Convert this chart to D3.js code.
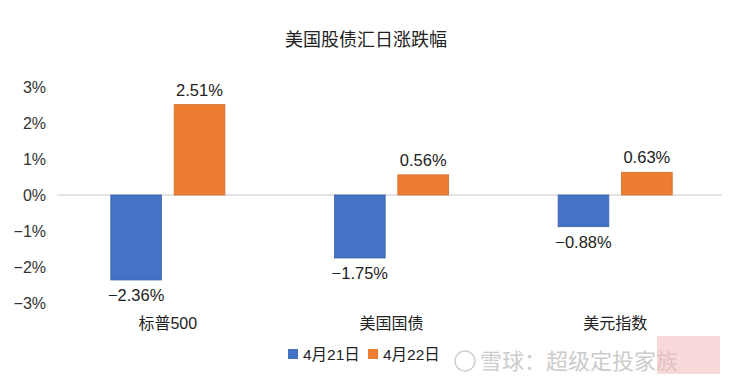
<!DOCTYPE html>
<html>
<head>
<meta charset="utf-8">
<script src="https://cdn.jsdelivr.net/npm/d3@7"></script>
<style>
  body { margin: 0; background: #fff; }
  text { font-family: "Liberation Sans", Arial, "Noto Sans CJK SC", sans-serif; }
</style>
</head>
<body>
<div id="chart"></div>
<script>
const categories = ['标普500', '美国国债', '美元指数']
const seriesNames = ['4月21日', '4月22日']
const apr21 = [-2.36, -1.75, -0.88]
const apr22 = [2.51, 0.56, 0.63]
const yTicks = [3, 2, 1, 0, -1, -2, -3]
const colors = ['#4472C4', '#ED7D31']

const width = 735, height = 390

const svg = d3.select('#chart').append('svg')
    .attr('width', width)
    .attr('height', height)

const x0 = d3.scaleBand()
    .domain(categories)
    .range([56, 727])
    .paddingInner(0.49)
    .paddingOuter(0.245)

const x1 = d3.scaleBand()
    .domain(seriesNames)
    .range([0, x0.bandwidth()])
    .paddingInner(0.2)

const y = d3.scaleLinear()
    .domain([-3, 3])
    .range([303, 87])

const pct = d3.format('.2%')
const tickFmt = d3.format('.0%')

// title
svg.append('text')
    .attr('x', 366)
    .attr('y', 46)
    .attr('text-anchor', 'middle')
    .attr('font-size', 18)
    .attr('fill', '#222')
    .text('美国股债汇日涨跌幅')

// y axis labels, no axis line
const yAxis = d3.axisLeft(y).tickValues(yTicks).tickSize(0).tickPadding(0)
    .tickFormat(d => tickFmt(d / 100))
svg.append('g')
    .attr('transform', 'translate(46,0)')
    .call(yAxis)
    .call(g => g.select('.domain').remove())
    .selectAll('text')
    .attr('font-size', 16)
    .attr('fill', '#333')
    .attr('font-family', '"Liberation Sans", Arial, sans-serif')

// zero line
svg.append('line')
    .attr('x1', 57)
    .attr('x2', 722)
    .attr('y1', y(0))
    .attr('y2', y(0))
    .attr('stroke', '#c8c8c8')
    .attr('stroke-width', 1)

const rows = categories.map((c, i) => ({cat: c, vals: [apr21[i], apr22[i]]}))

const groups = svg.selectAll('g.grp')
    .data(rows)
    .enter()
    .append('g')
    .attr('class', 'grp')
    .attr('transform', d => `translate(${x0(d.cat)},0)`)

groups.each(function(d) {
    const g = d3.select(this)
    d.vals.forEach((v, j) => {
        const name = seriesNames[j]
        g.append('rect')
            .attr('x', x1(name))
            .attr('y', y(Math.max(0, v)))
            .attr('width', x1.bandwidth())
            .attr('height', Math.abs(y(v) - y(0)))
            .attr('fill', colors[j])
            .attr('stroke', d3.color(colors[j]).darker(0.4))
            .attr('stroke-width', 0.8)

        g.append('text')
            .attr('x', x1(name) + x1.bandwidth() / 2)
            .attr('y', v >= 0 ? y(v) - 9 : y(v) + 21)
            .attr('text-anchor', 'middle')
            .attr('font-size', 16.5)
            .attr('fill', '#222')
            .text(pct(v / 100))
    })
})

// category labels
svg.selectAll('text.cat')
    .data(categories)
    .enter()
    .append('text')
    .attr('class', 'cat')
    .attr('x', d => x0(d) + x0.bandwidth() / 2)
    .attr('y', 329)
    .attr('text-anchor', 'middle')
    .attr('font-size', 16)
    .attr('fill', '#222')
    .text(d => d)

// legend
const legend = svg.append('g').attr('transform', 'translate(288,349)')
const legX = [0, 80]
seriesNames.forEach((n, i) => {
    legend.append('rect')
        .attr('x', legX[i])
        .attr('y', 0)
        .attr('width', 10)
        .attr('height', 10)
        .attr('fill', colors[i])
    legend.append('text')
        .attr('x', legX[i] + 15)
        .attr('y', 11)
        .attr('font-size', 15.5)
        .attr('fill', '#222')
        .text(n)
})

// watermark
svg.append('circle')
    .attr('cx', 465)
    .attr('cy', 361)
    .attr('r', 10)
    .attr('fill', 'none')
    .attr('stroke', '#cfcfcf')
    .attr('stroke-width', 1.5)
svg.append('text')
    .attr('x', 480)
    .attr('y', 369)
    .attr('font-size', 22)
    .attr('fill', '#cccccc')
    .text('雪球：超级定投家族')
svg.append('rect')
    .attr('x', 657)
    .attr('y', 336)
    .attr('width', 63)
    .attr('height', 38)
    .attr('fill', '#f1b9b9')
    .attr('opacity', 0.55)
</script>
</body>
</html>
